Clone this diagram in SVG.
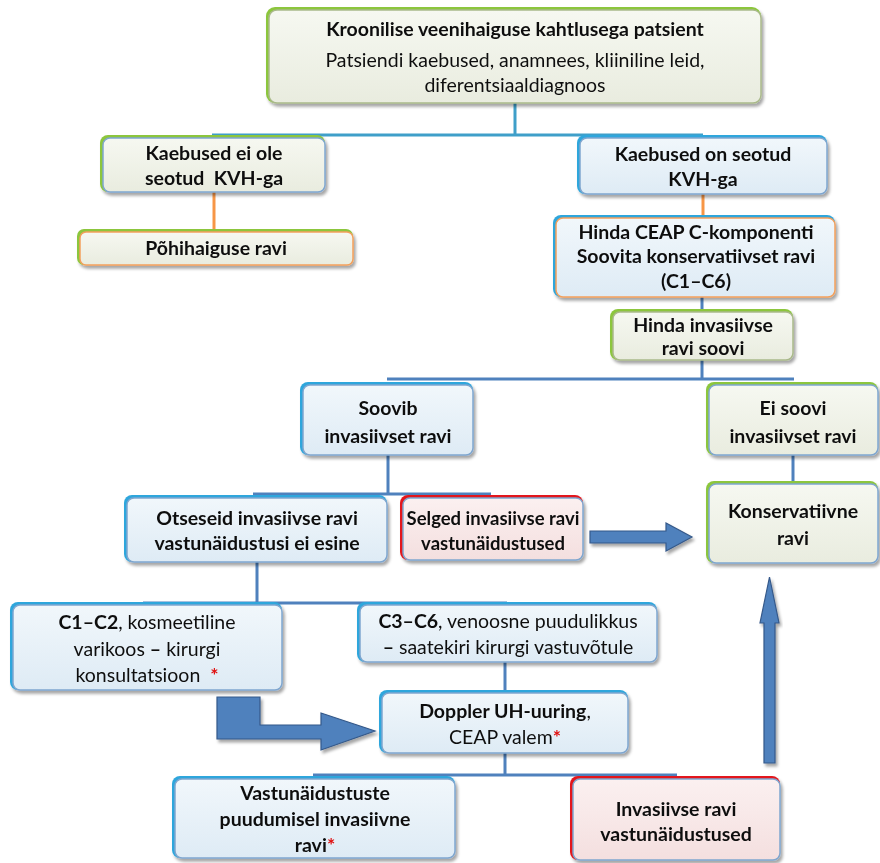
<svg xmlns="http://www.w3.org/2000/svg" width="880" height="863" viewBox="0 0 880 863">
<style>
text{font-family:Lato,"Open Sans","Liberation Sans",sans-serif;font-size:19.5px;fill:#111;text-anchor:middle;white-space:pre}
.b{font-weight:bold}
.n{font-weight:normal}
.r{fill:#e01010;font-weight:bold}
.fg{fill:url(#gG)}
.fb{fill:url(#gB)}
.fr{fill:url(#gR)}
.ag{fill:#8cc63e}
.ab{fill:#2ea6dc}
.ar{fill:#e3161b}
.sg{stroke:#a9b98a;stroke-width:1.5}
.sb{stroke:#7fa6cf;stroke-width:1.5}
.so{stroke:#f3a05c;stroke-width:1.5}
.con{fill:none;stroke-width:3}
.cb{stroke:#4f81bd}
.ct{stroke:#3f9fc9}
.co{stroke:#f79646}
.arw{fill:#4f81bd;stroke:#35598a;stroke-width:1.2}
</style>
<defs>
<linearGradient id="gG" x1="0" y1="0" x2="0" y2="1"><stop offset="0" stop-color="#f6f8f1"/><stop offset="1" stop-color="#e9ecdf"/></linearGradient>
<linearGradient id="gB" x1="0" y1="0" x2="0" y2="1"><stop offset="0" stop-color="#f1f7fb"/><stop offset="1" stop-color="#deebf5"/></linearGradient>
<linearGradient id="gR" x1="0" y1="0" x2="0" y2="1"><stop offset="0" stop-color="#fbf0f0"/><stop offset="1" stop-color="#f4dfdf"/></linearGradient>
<filter id="sh" x="-10%" y="-10%" width="130%" height="140%"><feDropShadow dx="2" dy="3" stdDeviation="1.8" flood-color="#000" flood-opacity="0.35"/></filter>
</defs>

<g id="connectors">
<path class="con ct" d="M515,103 V135 M212,135 H703"/>
<path class="con co" d="M214,192 V232"/>
<path class="con co" d="M703,193 V218"/>
<path class="con cb" d="M702,297 V312"/>
<path class="con cb" d="M702,360 V379 M387,379 H794"/>
<path class="con cb" d="M388,455 V494 M253,494 H491"/>
<path class="con cb" d="M793,455 V484"/>
<path class="con cb" d="M257,562 V603 M143,603 H507"/>
<path class="con cb" d="M505,662 V693"/>
<path class="con cb" d="M505,753 V775 M313,775 H677"/>
<polygon class="arw" filter="url(#sh)" points="590,531 666,531 666,523 692,537 666,551 666,543 590,543"/>
<polygon class="arw" filter="url(#sh)" points="217,697 260,697 260,725 321,725 321,713 375,731 321,750 321,739 217,739"/>
<polygon class="arw" filter="url(#sh)" points="764,763 764,623 760,623 769.5,577 779,623 775,623 775,763"/>
</g>

<g id="n-top" filter="url(#sh)">
<rect class="ag" x="266" y="7" width="495" height="96" rx="9"/>
<rect class="fg sg" x="269" y="10" width="492" height="93" rx="8"/>
<text x="515" y="36" class="b">Kroonilise veenihaiguse kahtlusega patsient</text>
<text x="515" y="67">Patsiendi kaebused, anamnees, kliiniline leid,</text>
<text x="515" y="92">diferentsiaaldiagnoos</text>
</g>

<g id="n-ei-ole" filter="url(#sh)">
<rect class="ag" x="100" y="135" width="225" height="57" rx="8"/>
<rect class="fg sb" x="103" y="138" width="222" height="54" rx="7"/>
<text x="214" y="160" class="b">Kaebused ei ole</text>
<text x="214" y="185" class="b">seotud  KVH-ga</text>
</g>

<g id="n-pohihaigus" filter="url(#sh)">
<rect class="ag" x="77" y="229" width="276" height="36" rx="7"/>
<rect class="fg so" x="80" y="232" width="273" height="33" rx="6"/>
<text x="216" y="255" class="b">Põhihaiguse ravi</text>
</g>

<g id="n-on-seotud" filter="url(#sh)">
<rect class="ab" x="577" y="135" width="250" height="59" rx="8"/>
<rect class="fb sb" x="580" y="138" width="247" height="56" rx="7"/>
<text x="703" y="161" class="b">Kaebused on seotud</text>
<text x="703" y="186" class="b">KVH-ga</text>
</g>

<g id="n-ceap" filter="url(#sh)">
<rect class="ab" x="553" y="215" width="282" height="82" rx="8"/>
<rect class="fb so" x="556" y="218" width="279" height="79" rx="7"/>
<text x="696" y="239" class="b">Hinda CEAP C-komponenti</text>
<text x="696" y="263" class="b">Soovita konservatiivset ravi</text>
<text x="696" y="288" class="b">(C1–C6)</text>
</g>

<g id="n-hinda-soovi" filter="url(#sh)">
<rect class="ag" x="610" y="309" width="183" height="51" rx="8"/>
<rect class="fg sg" x="613" y="312" width="180" height="48" rx="7"/>
<text x="703" y="332" class="b">Hinda invasiivse</text>
<text x="703" y="355" class="b">ravi soovi</text>
</g>

<g id="n-soovib" filter="url(#sh)">
<rect class="ab" x="300" y="382" width="173" height="73" rx="8"/>
<rect class="fb sb" x="303" y="385" width="170" height="70" rx="7"/>
<text x="388" y="415" class="b">Soovib</text>
<text x="388" y="443" class="b">invasiivset ravi</text>
</g>

<g id="n-ei-soovi" filter="url(#sh)">
<rect class="ag" x="706" y="382" width="172" height="73" rx="8"/>
<rect class="fg sb" x="709" y="385" width="169" height="70" rx="7"/>
<text x="793" y="415" class="b">Ei soovi</text>
<text x="793" y="443" class="b">invasiivset ravi</text>
</g>

<g id="n-otseseid" filter="url(#sh)">
<rect class="ab" x="124" y="495" width="263" height="67" rx="8"/>
<rect class="fb sb" x="127" y="498" width="260" height="64" rx="7"/>
<text x="257" y="525" class="b">Otseseid invasiivse ravi</text>
<text x="257" y="550" class="b">vastunäidustusi ei esine</text>
</g>

<g id="n-selged" filter="url(#sh)">
<rect class="ar" x="400" y="495" width="183" height="65" rx="8"/>
<rect class="fr sb" x="403" y="498" width="180" height="62" rx="7"/>
<text x="493" y="525" class="b" style="font-size:18.5px">Selged invasiivse ravi</text>
<text x="493" y="550" class="b" style="font-size:18.5px">vastunäidustused</text>
</g>

<g id="n-konservatiivne" filter="url(#sh)">
<rect class="ag" x="706" y="481" width="172" height="82" rx="8"/>
<rect class="fg sb" x="709" y="484" width="169" height="79" rx="7"/>
<text x="793" y="518" class="b">Konservatiivne</text>
<text x="793" y="545" class="b">ravi</text>
</g>

<g id="n-c1c2" filter="url(#sh)">
<rect class="ab" x="10" y="602" width="272" height="88" rx="8"/>
<rect class="fb sb" x="13" y="605" width="269" height="85" rx="7"/>
<text x="147" y="629"><tspan class="b">C1–C2</tspan>, kosmeetiline</text>
<text x="147" y="656">varikoos <tspan class="b">–</tspan> kirurgi</text>
<text x="147" y="682">konsultatsioon  <tspan class="r">*</tspan></text>
</g>

<g id="n-c3c6" filter="url(#sh)">
<rect class="ab" x="357" y="602" width="300" height="60" rx="8"/>
<rect class="fb sb" x="360" y="605" width="297" height="57" rx="7"/>
<text x="508" y="628"><tspan class="b">C3–C6</tspan>, venoosne puudulikkus</text>
<text x="508" y="654"><tspan class="b">–</tspan> saatekiri kirurgi vastuvõtule</text>
</g>

<g id="n-doppler" filter="url(#sh)">
<rect class="ab" x="379" y="690" width="249" height="63" rx="8"/>
<rect class="fb sb" x="382" y="693" width="246" height="60" rx="7"/>
<text x="505" y="718"><tspan class="b">Doppler UH-uuring</tspan>,</text>
<text x="505" y="744">CEAP valem<tspan class="r">*</tspan></text>
</g>

<g id="n-vastunaidustuste" filter="url(#sh)">
<rect class="ab" x="172" y="776" width="283" height="82" rx="8"/>
<rect class="fb sb" x="175" y="779" width="280" height="79" rx="7"/>
<text x="315" y="800" class="b">Vastunäidustuste</text>
<text x="315" y="826" class="b">puudumisel invasiivne</text>
<text x="315" y="852" class="b">ravi<tspan class="r">*</tspan></text>
</g>

<g id="n-invasiivse-vastu" filter="url(#sh)">
<rect class="ar" x="570" y="776" width="210" height="84" rx="8"/>
<rect class="fr sb" x="573" y="779" width="207" height="81" rx="7"/>
<text x="676" y="816" class="b">Invasiivse ravi</text>
<text x="676" y="841" class="b">vastunäidustused</text>
</g>
</svg>
